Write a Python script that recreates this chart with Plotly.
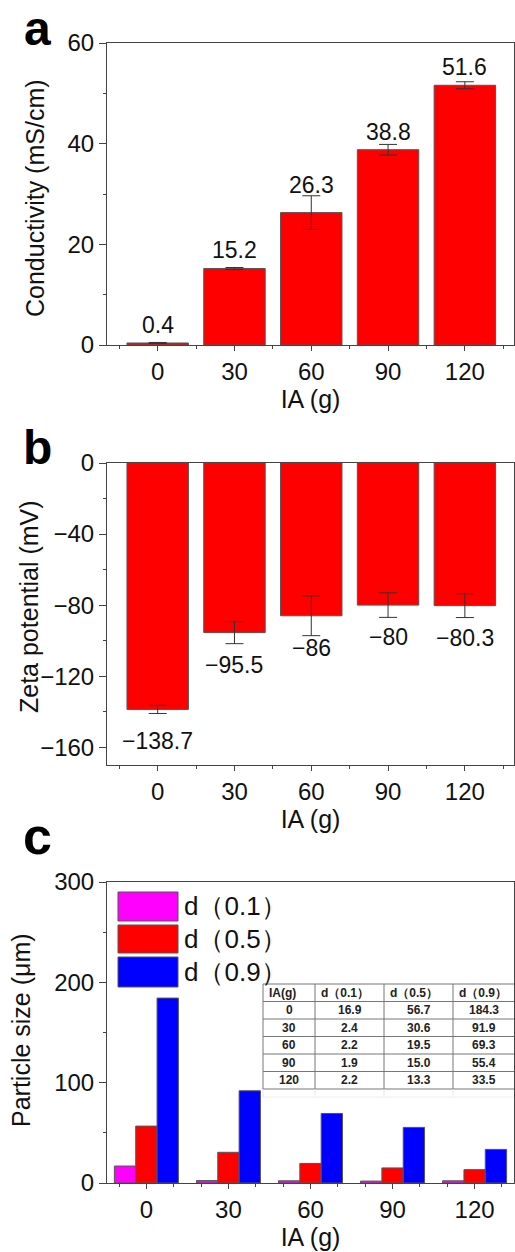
import plotly.graph_objects as go

W, H = 515, 1252

categories = ["0", "30", "60", "90", "120"]

conductivity = [0.4, 15.2, 26.3, 38.8, 51.6]
conductivity_err = [0.1, 0.2, 3.35, 1.05, 0.7]

zeta = [-138.7, -95.5, -86.0, -80.0, -80.3]
zeta_err = [2.3, 6.2, 11.2, 6.9, 6.7]

d01 = [16.9, 2.4, 2.2, 1.9, 2.2]
d05 = [56.7, 30.6, 19.5, 15.0, 13.3]
d09 = [184.3, 91.9, 69.3, 55.4, 33.5]
size_names = ["d（0.1）", "d（0.5）", "d（0.9）"]
size_colors = ["#FF00FF", "#FF0000", "#0000FF"]

table_header = ["IA(g)", "d（0.1）", "d（0.5）", "d（0.9）"]

FONT = "Liberation Sans, Arial, sans-serif"
AX = "#444444"
EDGE = "#555555"


def px(x):
    return x / W


def py(y):
    return 1 - y / H


xpos = list(range(len(categories)))

# panel geometry (pixels)
A_TOP, A_BOT, A_RNG = 43, 345, [0, 60]
B_TOP, B_BOT, B_RNG = 463, 765, [-170, 0]
C_TOP, C_BOT, C_RNG = 882, 1183, [0, 300]

fig = go.Figure()

# ---- panel a
fig.add_trace(go.Bar(
    x=xpos, y=conductivity, width=0.8,
    marker=dict(color="#FF0000", line=dict(color=EDGE, width=1)),
    error_y=dict(type="data", array=conductivity_err, color="#333333", thickness=1, width=9),
    xaxis="x", yaxis="y", showlegend=False))

# ---- panel b
fig.add_trace(go.Bar(
    x=xpos, y=zeta, width=0.8,
    marker=dict(color="#FF0000", line=dict(color=EDGE, width=1)),
    error_y=dict(type="data", array=zeta_err, color="#333333", thickness=1, width=9),
    xaxis="x2", yaxis="y2", showlegend=False))

# ---- panel c
bw = 0.26
for k, (vals, name, col) in enumerate(zip([d01, d05, d09], size_names, size_colors)):
    fig.add_trace(go.Bar(
        x=[i + (k - 1) * bw for i in xpos], y=vals, width=bw, name=name,
        marker=dict(color=col, line=dict(color=EDGE, width=1)),
        xaxis="x3", yaxis="y3", showlegend=False))

xdom = [px(107), px(514)]
tickfont = dict(family=FONT, size=24, color="#111111")
titlefont = dict(family=FONT, size=25, color="#111111")


def xaxis_cfg(rng, minor_dtick, anchor, standoff):
    return dict(domain=xdom, range=rng, anchor=anchor, automargin=False,
                tickvals=xpos, ticktext=categories,
                showline=True, linecolor=AX, linewidth=1, mirror=True,
                ticks="outside", ticklen=5, tickcolor=AX,
                minor=dict(dtick=minor_dtick, tick0=0, ticks="outside", ticklen=3, tickcolor=AX),
                showgrid=False, zeroline=False, tickfont=tickfont,
                title=dict(text="IA (g)", font=titlefont, standoff=standoff))


def yaxis_cfg(top, bot, rng, dtick, minor, anchor):
    return dict(domain=[py(bot), py(top)], range=rng, anchor=anchor, dtick=dtick, automargin=False,
                showline=True, linecolor=AX, linewidth=1, mirror=True,
                ticks="outside", ticklen=7, tickcolor=AX,
                minor=dict(dtick=minor, ticks="outside", ticklen=3, tickcolor=AX),
                showgrid=False, zeroline=False, tickfont=tickfont)


fig.update_layout(
    width=W, height=H, margin=dict(l=0, r=0, t=0, b=0, pad=0, autoexpand=False),
    paper_bgcolor="white", plot_bgcolor="white",
    font=dict(family=FONT, color="#111111"),
    barmode="overlay",
    xaxis=xaxis_cfg([-0.66, 4.64], 0.5, "y", 0),
    yaxis=yaxis_cfg(A_TOP, A_BOT, A_RNG, 20, 10, "x"),
    xaxis2=xaxis_cfg([-0.66, 4.64], 0.5, "y2", 0),
    yaxis2=yaxis_cfg(B_TOP, B_BOT, B_RNG, 40, 20, "x2"),
    xaxis3=xaxis_cfg([-0.48, 4.48], 1 / 3, "y3", 6),
    yaxis3=yaxis_cfg(C_TOP, C_BOT, C_RNG, 100, 50, "x3"),
)

annotations = []
shapes = []

# y-axis titles
for text, xc, yc in [("Conductivity (mS/cm)", 35, 198),
                     ("Zeta potential (mV)", 29, 607),
                     ("Particle size (μm)", 21, 1030)]:
    annotations.append(dict(x=px(xc), y=py(yc), xref="paper", yref="paper", text=text,
                            textangle=-90, showarrow=False, xanchor="center", yanchor="middle",
                            font=titlefont))

vfont = dict(family=FONT, size=23, color="#111111")
# value labels a (pixel offsets converted to data units)
a_scale = (A_RNG[1] - A_RNG[0]) / (A_BOT - A_TOP)
for i, (v, e) in enumerate(zip(conductivity, conductivity_err)):
    ylab = max(v + 18 * a_scale, v + e + 11 * a_scale)
    annotations.append(dict(x=i, y=ylab, xref="x", yref="y", text=f"{v:.1f}",
                            showarrow=False, yanchor="middle", font=vfont))
# value labels b
b_scale = (B_RNG[1] - B_RNG[0]) / (B_BOT - B_TOP)
for i, (v, e) in enumerate(zip(zeta, zeta_err)):
    lab = (f"{v:.1f}" if abs(v - round(v)) > 1e-9 else f"{v:.0f}").replace("-", "−")
    annotations.append(dict(x=i, y=v - 32 * b_scale, xref="x2", yref="y2", text=lab,
                            showarrow=False, yanchor="middle", font=vfont))
# panel letters
annotations.append(dict(x=px(22), y=1, xref="paper", yref="paper", text="<b>a</b>",
                        showarrow=False, xanchor="left", yanchor="top",
                        font=dict(family=FONT, size=48, color="#000000")))
for letter, ymid, fs in [("b", 447, 48), ("c", 836, 52)]:
    annotations.append(dict(x=px(21), y=py(ymid), xref="paper", yref="paper", text=f"<b>{letter}</b>",
                            showarrow=False, xanchor="left", yanchor="middle",
                            font=dict(family=FONT, size=fs, color="#000000")))

# manual legend for panel c
legend_rows = [(892, 921), (925, 953), (957, 987)]
for (y0, y1), name, col in zip(legend_rows, size_names, size_colors):
    shapes.append(dict(type="rect", xref="paper", yref="paper",
                       x0=px(118), x1=px(178), y0=py(y1), y1=py(y0),
                       fillcolor=col, line=dict(color=EDGE, width=1)))
    annotations.append(dict(x=px(182), y=py((y0 + y1) / 2), xref="paper", yref="paper",
                            text=name, showarrow=False, xanchor="left", yanchor="middle",
                            font=dict(family=FONT, size=26, color="#111111")))

# inset table (panel c)
col_edges = [263, 315, 384, 453, 514]
row_top, row_h = 984, 17.5
table_rows = [table_header] + [[c, f"{a:.1f}", f"{b:.1f}", f"{d:.1f}"]
                               for c, a, b, d in zip(categories, d01, d05, d09)]
n_rows = len(table_rows)
tb_bottom = row_top + n_rows * row_h
shapes.append(dict(type="rect", xref="paper", yref="paper", layer="above",
                   x0=px(col_edges[0]), x1=px(col_edges[-1]), y0=py(tb_bottom + 8), y1=py(row_top),
                   fillcolor="white", line=dict(width=0)))
for r in range(n_rows + 1):
    yy = row_top + r * row_h
    shapes.append(dict(type="line", xref="paper", yref="paper", layer="above",
                       x0=px(col_edges[0]), x1=px(col_edges[-1]), y0=py(yy), y1=py(yy),
                       line=dict(color="#777777", width=1)))
for xe in col_edges[:-1]:
    shapes.append(dict(type="line", xref="paper", yref="paper", layer="above",
                       x0=px(xe), x1=px(xe), y0=py(tb_bottom), y1=py(row_top),
                       line=dict(color="#777777", width=1)))
    shapes.append(dict(type="line", xref="paper", yref="paper", layer="above",
                       x0=px(xe), x1=px(xe), y0=py(tb_bottom + 8), y1=py(tb_bottom),
                       line=dict(color="#e4e4e4", width=1)))
shapes.append(dict(type="line", xref="paper", yref="paper", layer="above",
                   x0=px(col_edges[0]), x1=px(col_edges[-1]), y0=py(tb_bottom + 8), y1=py(tb_bottom + 8),
                   line=dict(color="#eeeeee", width=1)))
tfont = dict(family=FONT, size=12, color="#222222")
for r, row in enumerate(table_rows):
    yc = row_top + (r + 0.5) * row_h
    for c, txt in enumerate(row):
        if r == 0:
            annotations.append(dict(x=px(col_edges[c] + 4), y=py(yc), xref="paper", yref="paper",
                                    text=f"<b>{txt}</b>", showarrow=False, xanchor="left",
                                    yanchor="middle", font=tfont))
        else:
            annotations.append(dict(x=px((col_edges[c] + col_edges[c + 1]) / 2), y=py(yc),
                                    xref="paper", yref="paper", text=f"<b>{txt}</b>",
                                    showarrow=False, xanchor="center", yanchor="middle", font=tfont))

fig.update_layout(annotations=annotations, shapes=shapes)

fig.write_html("out.html")
